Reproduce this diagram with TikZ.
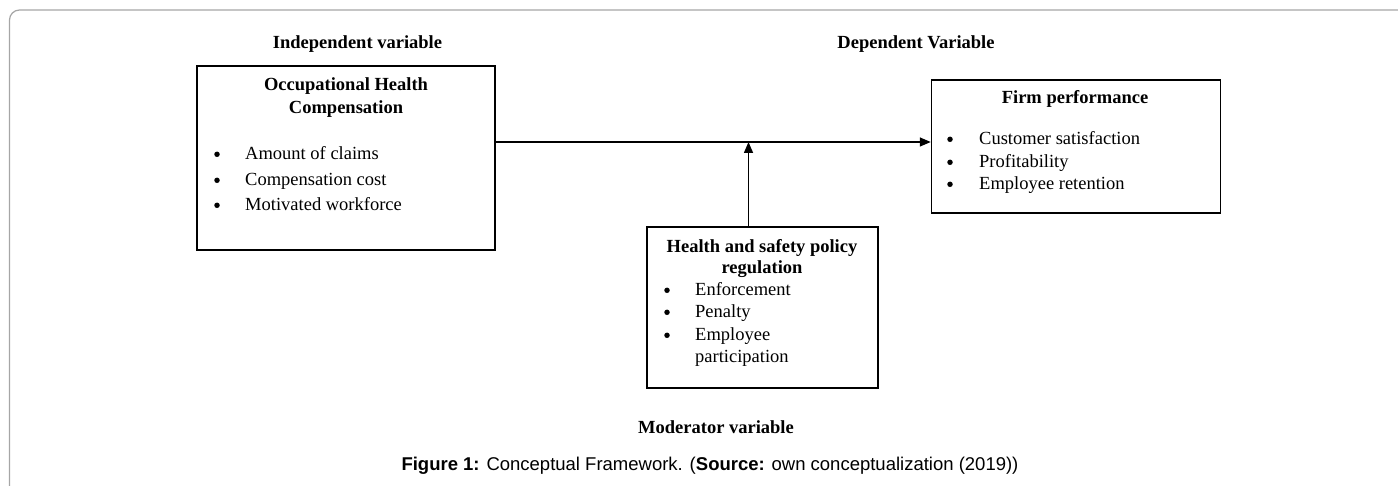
\documentclass[tikz,border=0pt]{standalone}
\usepackage{fontspec}
\setmainfont{Liberation Serif}
\newfontfamily\capfont{Liberation Sans}
\usetikzlibrary{arrows.meta}
\begin{document}
\begin{tikzpicture}[x=1pt,y=-1pt,
  box/.style={draw, line width=1.5pt, inner sep=0pt},
  txt/.style={inner sep=0pt, yshift=-3.5pt, font=\fontsize{18.5}{22}\selectfont},
  bul/.style={circle, fill=black, inner sep=0pt, minimum size=5.5pt, yshift=5.5pt},
  hd/.style={inner sep=0pt, yshift=-3.5pt, font=\fontsize{18.5}{22}\selectfont\bfseries},
  captxt/.style={inner sep=0pt, yshift=-3.5pt, font=\fontsize{18.5}{22}\selectfont\capfont},
  conn/.style={line width=1.5pt, -{Triangle[length=11pt,width=9pt]}},
  outframe/.style={draw=black!35, line width=1.2pt, rounded corners=10pt}]
\useasboundingbox (0,0) rectangle (1398,486);
\draw[outframe] (9.5,490) -- (9.5,10) -- (1402,10);

% headings
\node[hd, anchor=mid] (hind) at (357.5,43) {Independent variable};
\node[hd, anchor=mid] (hdep) at (916,43) {Dependent Variable};
\node[hd, anchor=mid] (hmod) at (716,428) {Moderator variable};

% boxes
\node[box, minimum width=298pt, minimum height=184pt] (ind) at (346,158) {};
\node[box, minimum width=289pt, minimum height=133pt] (dep) at (1076,146.5) {};
\node[box, minimum width=231pt, minimum height=161pt] (mod) at (762.5,307.5) {};

% independent box text
\node[hd, anchor=mid] (t1) at (346,85) {Occupational Health};
\node[hd, anchor=mid] (t2) at (346,108) {Compensation};
\foreach \yy/\tt [count=\i] in {154/Amount of claims,180/Compensation cost,205/Motivated workforce}{
  \node[txt, anchor=mid west] (it\i) at (245,\yy) {\tt};
  \node[bul] (ib\i) at (it\i.base -| 217,0) {};
}

% dependent box text
\node[hd, anchor=mid] (t3) at (1075,98) {Firm performance};
\foreach \yy/\tt [count=\i] in {139/Customer satisfaction,162/Profitability,184/Employee retention}{
  \node[txt, anchor=mid west] (dt\i) at (979,\yy) {\tt};
  \node[bul] (db\i) at (dt\i.base -| 950,0) {};
}

% moderator box text
\node[hd, anchor=mid] (t4) at (762,247) {Health and safety policy};
\node[hd, anchor=mid] (t5) at (762,268) {regulation};
\foreach \yy/\tt [count=\i] in {290/Enforcement,312/Penalty,335/Employee}{
  \node[txt, anchor=mid west] (mt\i) at (695,\yy) {\tt};
  \node[bul] (mb\i) at (mt\i.base -| 667,0) {};
}
\node[txt, anchor=mid west] (mt4) at (695,357) {participation};

% connectors
\coordinate (ay) at (0,142);
\coordinate (vx) at (748.5,0);
\draw[conn] (ind.east |- ay) -- (dep.west |- ay);
\draw[conn] (mod.north -| vx) -- (vx |- ay);

% caption
\node[captxt, anchor=mid] (capt) at (710,465) {\textbf{Figure 1:} Conceptual Framework. (\textbf{Source:} own conceptualization (2019))};
\end{tikzpicture}
\end{document}
